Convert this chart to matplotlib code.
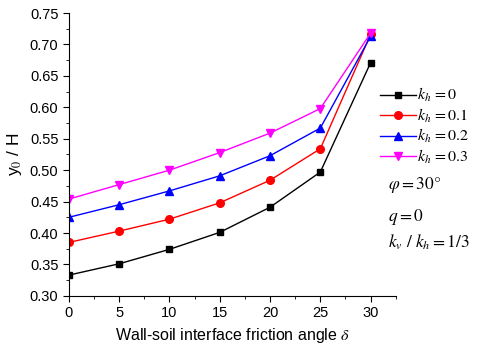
import matplotlib.pyplot as plt
from matplotlib.ticker import MultipleLocator

plt.rcParams['font.family'] = ['Liberation Sans', 'DejaVu Sans']
plt.rcParams['mathtext.fontset'] = 'stix'

delta = [0, 5, 10, 15, 20, 25, 30]
kh0 = [0.333, 0.351, 0.374, 0.401, 0.441, 0.497, 0.671]
kh01 = [0.385, 0.403, 0.422, 0.448, 0.484, 0.534, 0.716]
kh02 = [0.425, 0.445, 0.467, 0.491, 0.523, 0.567, 0.713]
kh03 = [0.454, 0.477, 0.500, 0.528, 0.559, 0.598, 0.718]

fig = plt.figure(figsize=(4.85, 3.44), dpi=100)
ax = fig.add_axes([0.142, 0.14, 0.674, 0.822])

ax.plot(delta, kh0, marker='s', color='black', lw=1, ms=5, label=r'$k_h\,=0$')
ax.plot(delta, kh01, marker='o', color='red', lw=1, ms=5.5, label=r'$k_h\,=0.1$')
ax.plot(delta, kh02, marker='^', color='blue', lw=1, ms=6, label=r'$k_h\,=0.2$')
ax.plot(delta, kh03, marker='v', color='magenta', lw=1, ms=6, label=r'$k_h\,=0.3$')

ax.set_xlim(0, 32.5)
ax.set_ylim(0.30, 0.75)
ax.xaxis.set_major_locator(MultipleLocator(5))
ax.xaxis.set_minor_locator(MultipleLocator(2.5))
ax.yaxis.set_major_locator(MultipleLocator(0.05))
ax.yaxis.set_minor_locator(MultipleLocator(0.025))
ax.yaxis.set_major_formatter(plt.FormatStrFormatter('%.2f'))
ax.tick_params(labelsize=10.5, direction='out', length=4)
ax.tick_params(which='minor', direction='out', length=2.5)
ax.spines['top'].set_visible(False)
ax.spines['right'].set_visible(False)

ax.set_ylabel(r'y$_0$ / H', fontsize=12.5)
ax.set_xlabel(r'Wall-soil interface friction angle $\delta$', fontsize=11.5)

leg = ax.legend(loc='center left', bbox_to_anchor=(0.951, 0.60), frameon=False,
                fontsize=11.5, handlelength=2.3, handletextpad=0.05,
                labelspacing=0.15, borderpad=0, borderaxespad=0)

ax.text(0.976, 0.392, r'$\varphi = 30°$', transform=ax.transAxes, fontsize=12.5, va='center')
ax.text(0.976, 0.279, r'$q = 0$', transform=ax.transAxes, fontsize=12.5, va='center')
ax.text(0.976, 0.19, r'$k_v\ /\ k_h = 1/3$', transform=ax.transAxes, fontsize=12.5, va='center')

fig.savefig('out.png', dpi=100)
